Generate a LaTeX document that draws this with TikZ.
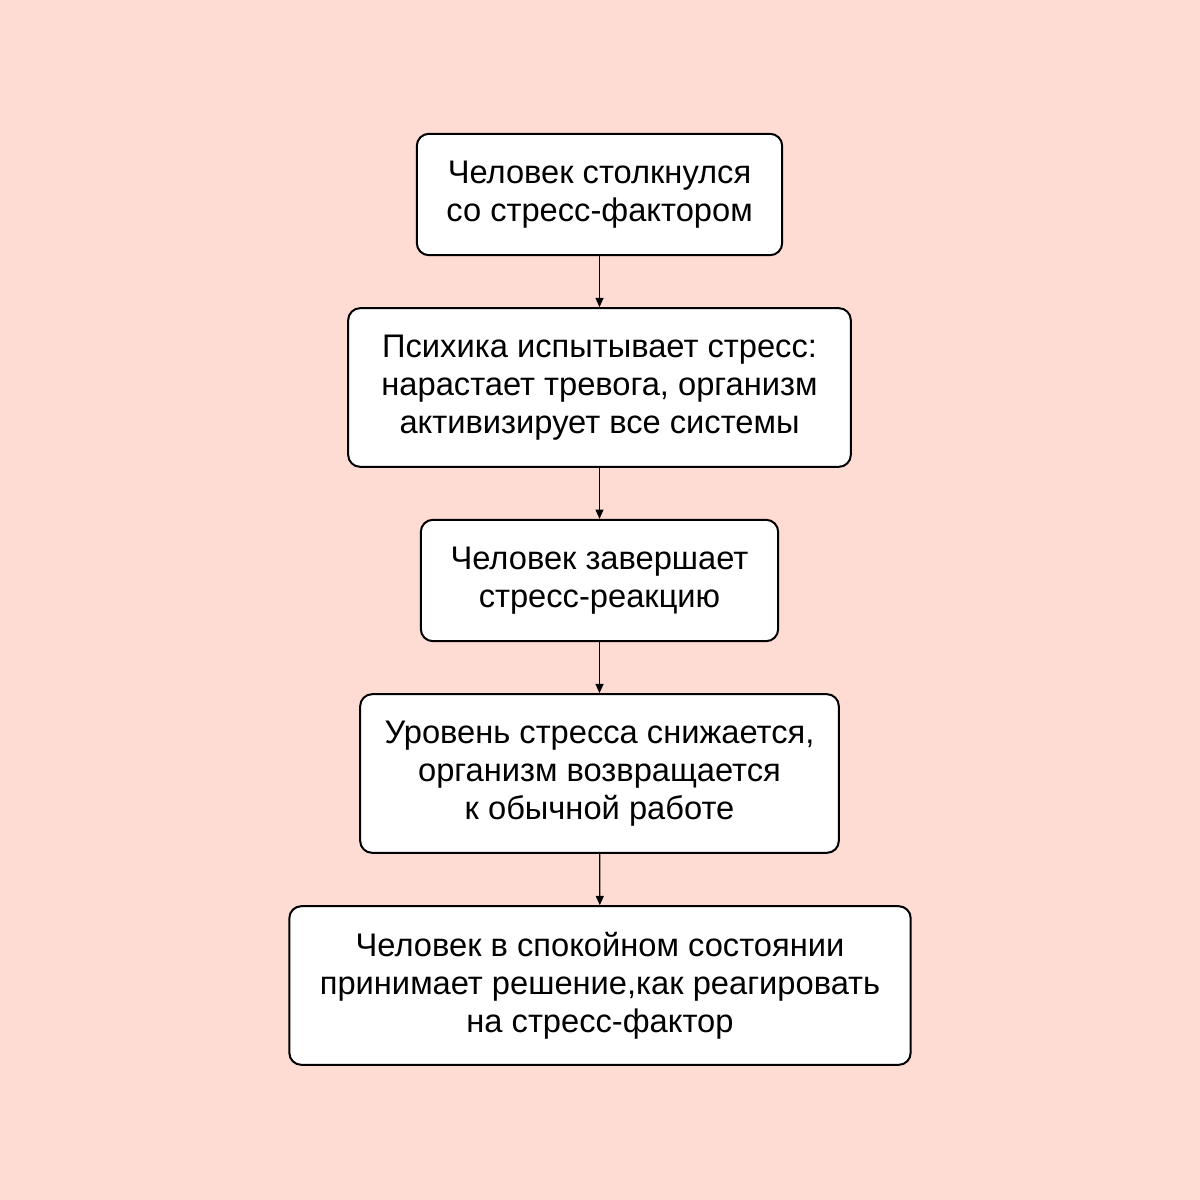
\documentclass[tikz,border=0pt]{standalone}
\usepackage{fontspec}
\setmainfont{Liberation Sans}
\usetikzlibrary{arrows.meta}
\definecolor{bgpink}{RGB}{255,220,211}
\begin{document}
\begin{tikzpicture}[x=0.75pt,y=0.75pt,yscale=-1,xscale=1,
  stepbox/.style={draw,line width=1.5pt,rounded corners=9pt,fill=white,align=center,
    inner sep=0pt,font=\fontsize{24.5}{28.5}\selectfont},
  flow/.style={-{Triangle[length=7pt,width=6pt]},line width=1pt}]
%background
\fill[bgpink] (0,0) rectangle (1200,1200);
\useasboundingbox (0,0) rectangle (1200,1200);

% Boxes
\node[stepbox,minimum width=274pt,minimum height=91pt] (met) at (599.5,194.5) {Человек столкнулся\\со стресс-фактором};
\node[stepbox,minimum width=377pt,minimum height=119pt] (stress) at (599.5,387.5) {Психика испытывает стресс:\\нарастает тревога, организм\\активизирует все системы};
\node[stepbox,minimum width=268pt,minimum height=91pt] (ends) at (599.5,580.5) {Человек завершает\\стресс-реакцию};
\node[stepbox,minimum width=359pt,minimum height=119pt] (lower) at (599.5,773.5) {Уровень стресса снижается,\\организм возвращается\\к обычной работе};
\node[stepbox,minimum width=466pt,minimum height=119pt] (calm) at (600,985.5) {Человек в спокойном состоянии\\принимает решение,как реагировать\\на стресс-фактор};

% Arrows
\draw[flow] (met) -- (stress);
\draw[flow] (stress) -- (ends);
\draw[flow] (ends) -- (lower);
\draw[flow] (lower) -- (calm);

\end{tikzpicture}
\end{document}
